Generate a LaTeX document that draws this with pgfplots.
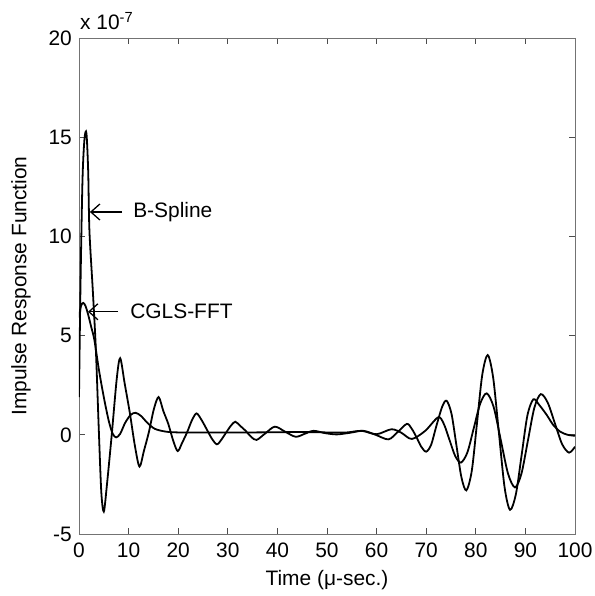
\documentclass[border=0pt]{standalone}
\usepackage{fontspec}
\setmainfont{Liberation Sans}
\usepackage{pgfplots}
\pgfplotsset{compat=1.18}
\usetikzlibrary{arrows.meta}
\begin{document}
\fontsize{21}{25}\selectfont
\begin{tikzpicture}
\begin{axis}[
  width=496bp, height=496bp, scale only axis,
  xmin=0, xmax=100, ymin=-5, ymax=20,
  xtick={0,10,...,100}, ytick={-5,0,5,10,15,20},
  tick align=inside, tick pos=both,
  major tick length=6bp,
  axis line style={line width=0.8pt, black!55},
  tick style={line width=0.7pt, black!70},
  /pgf/number format/assume math mode=true,
  ticklabel style={font=\fontsize{21}{25}\selectfont},
  xticklabel style={yshift=-2bp},
  label style={font=\fontsize{21}{25}\selectfont},
  xlabel={Time (μ-sec.)},
  ylabel={Impulse Response Function},
  every axis y label/.style={at={(rel axis cs:0,0.5)}, xshift=-58bp, rotate=90, anchor=center},
  every axis x label/.style={at={(rel axis cs:0.5,0)}, yshift=-46bp, anchor=center},
  clip mode=individual,
]
\addplot[black, line width=1.8pt, smooth, tension=0.5] coordinates {
(0,1.9)(0.3,7.5)(0.7,12.8)(1.1,14.9)(1.5,15.2)(1.85,13.3)(2.1,10.3)(2.8,7.2)(3.4,4.3)
(4.0,0.2)(4.5,-2.9)(5.0,-3.87)(5.6,-2.6)(6.6,0.0)(7.6,2.8)(8.3,3.86)(9.2,2.6)
(10.25,1.1)(11.3,-0.6)(12.2,-1.6)(13.1,-0.8)(14.1,0.15)(15.1,1.3)(16.05,1.9)
(17.0,1.2)(18.0,0.55)(19.0,-0.3)(19.9,-0.82)(20.8,-0.4)(21.8,0.13)(22.8,0.75)
(23.7,1.08)(24.7,0.75)(25.7,0.3)(26.8,-0.2)(27.8,-0.48)(28.7,-0.25)(29.6,0.09)
(30.6,0.45)(31.5,0.66)(32.5,0.45)(33.6,0.2)(34.7,-0.1)(35.8,-0.26)(37.6,0.08)
(39.5,0.41)(41.6,0.15)(43.7,-0.1)(45.5,0.05)(47.3,0.2)(49.7,0.08)(52,0.02)
(54.6,0.1)(57.3,0.2)(59.8,0.0)(62.4,-0.23)(64.3,0.15)(66.1,0.55)(67.1,0.3)
(68.1,-0.15)(69.0,-0.6)(70.0,-0.85)(71.0,-0.5)(72.0,0.4)(73.2,1.4)(74.1,1.72)
(75.1,1.06)(76.1,-0.54)(77.1,-2.14)(78.1,-2.8)(79.2,-1.8)(80.25,0.61)(81.3,3.02)
(82.4,4.02)(83.5,2.88)(84.65,0.12)(85.8,-2.64)(86.9,-3.78)(88.1,-2.97)(89.25,-1.0)
(90.4,0.97)(91.6,1.79)(92.8,1.5)(94.3,1.0)(95.6,0.5)(97.0,0.16)(98.5,0.0)(100,-0.05)
};
\addplot[black, line width=1.8pt, smooth, tension=0.5] coordinates {
(0,5.9)(0.4,6.5)(0.85,6.65)(1.3,6.5)(1.8,6.1)(2.5,5.4)(3.1,4.78)(4.0,3.3)(5.0,1.9)
(6.0,0.7)(6.8,0.05)(7.5,-0.13)(8.3,0.05)(9.3,0.6)(10.4,1.0)(11.4,1.11)(12.5,0.95)
(13.8,0.6)(15.3,0.3)(17.5,0.16)(20,0.12)(25,0.12)(30,0.12)(35,0.12)(40,0.13)
(45,0.14)(50,0.12)(54,0.12)(57,0.2)(60,0.03)(63,0.28)(65,0.1)(67.1,-0.21)
(69.8,0.2)(72.4,0.88)(73.55,0.55)(74.7,-0.26)(75.85,-1.07)(77.0,-1.4)(78.3,-0.89)
(79.6,0.345)(80.9,1.58)(82.2,2.09)(83.6,1.4)(85.05,-0.28)(86.5,-1.96)(87.9,-2.65)
(89.2,-1.96)(90.5,-0.3)(91.8,1.36)(93.1,2.05)(94.5,1.62)(95.95,0.575)(97.4,-0.47)
(98.8,-0.9)(100,-0.6)
};
\draw[line width=1.3pt, -{Straight Barb[length=9bp,width=16bp,line width=1.3pt]}] (axis cs:8.7,11.23) -- (axis cs:2.2,11.23);
\node[anchor=west, inner sep=0pt] at (axis cs:10.9,11.23) {B-Spline};
\draw[line width=1.3pt, -{Straight Barb[length=9bp,width=16bp,line width=1.3pt]}] (axis cs:7.9,6.2) -- (axis cs:1.8,6.2);
\node[anchor=west, inner sep=0pt] at (axis cs:10.3,6.2) {CGLS-FFT};
\node[anchor=base west, inner sep=0pt] at (rel axis cs:0,1) [xshift=1bp, yshift=8bp] {x 10\textsuperscript{-7}};
\coordinate (bl) at (rel axis cs:0,0);
\coordinate (tr) at (rel axis cs:1,1);
\end{axis}
\pgfresetboundingbox
\useasboundingbox ([shift={(-79bp,-62bp)}]bl) rectangle ([shift={(20bp,38bp)}]tr);
\end{tikzpicture}
\end{document}
